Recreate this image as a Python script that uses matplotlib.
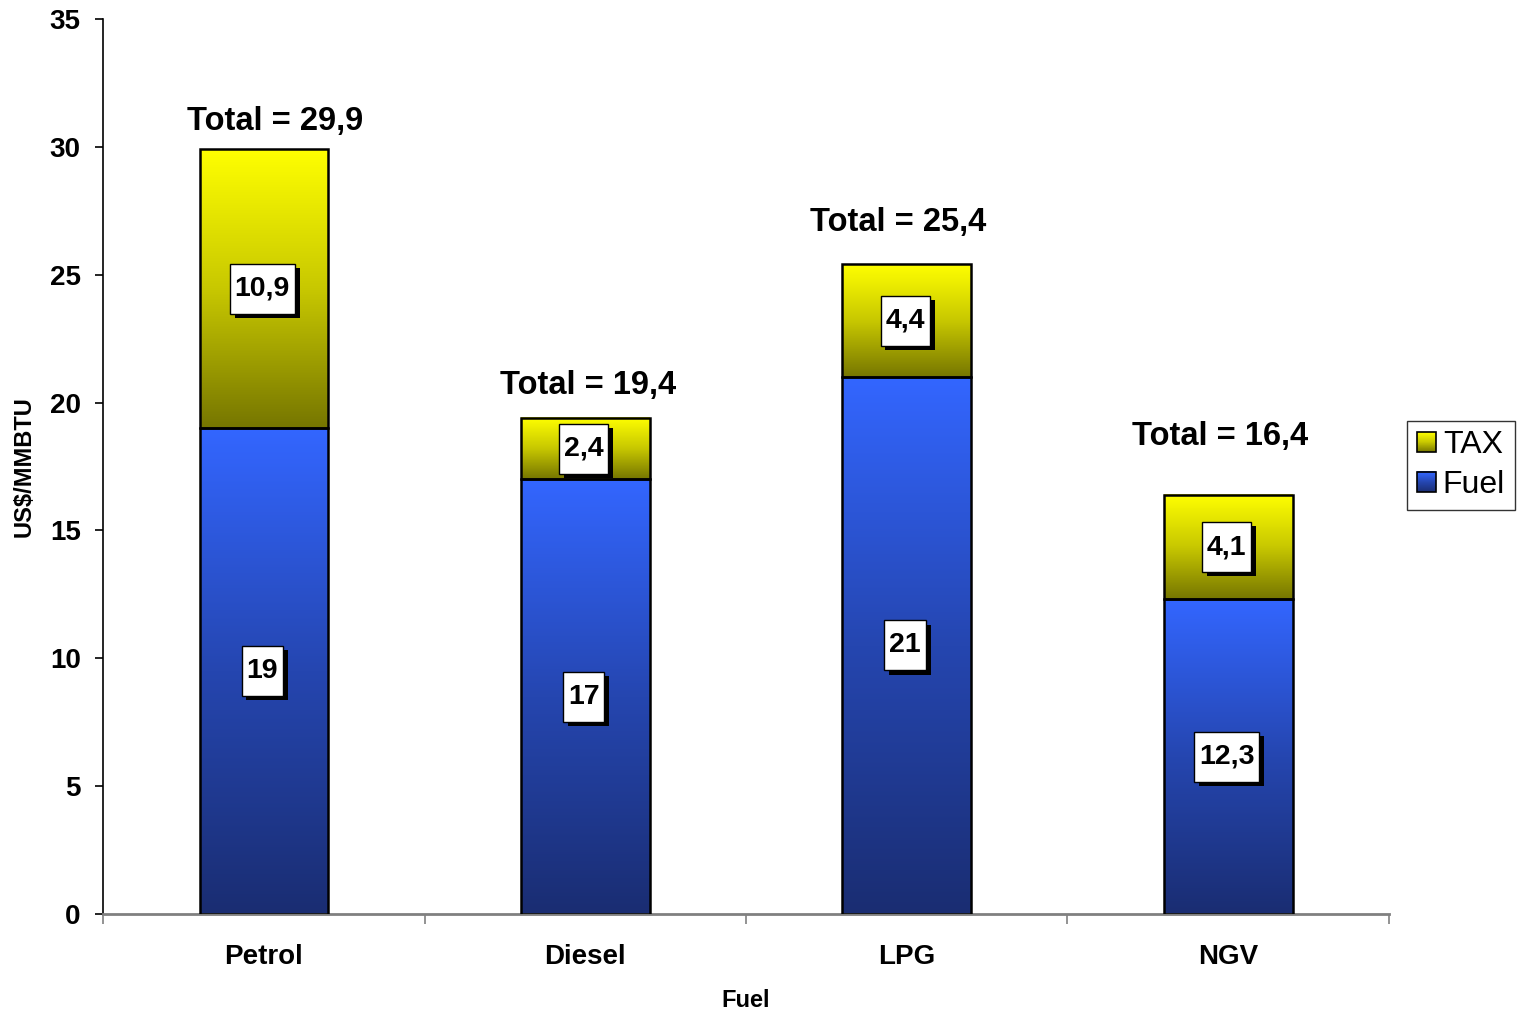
#!/usr/bin/env python3
"""
Fuel price breakdown (fuel cost + tax) per energy unit, stacked bars.
"""

import numpy as np
import matplotlib
matplotlib.use("Agg")
import matplotlib.pyplot as plt
import matplotlib.patheffects as pe
from matplotlib.colors import LinearSegmentedColormap
from matplotlib.legend_handler import HandlerBase
from matplotlib.patches import Rectangle
from matplotlib.path import Path
from matplotlib.ticker import FixedLocator

plt.rcParams['font.family'] = ['Liberation Sans', 'DejaVu Sans']

fuels = ['Petrol', 'Diesel', 'LPG', 'NGV']
fuel_cost = [19, 17, 21, 12.3]
tax = [10.9, 2.4, 4.4, 4.1]
totals = [29.9, 19.4, 25.4, 16.4]

# vertical gap (points) between bar top and its "Total" caption, plus small x nudges
total_gap_pt = [20, 23, 30, 42]
total_dx_pt = [8, 2, -6, -6]

fuel_cmap = LinearSegmentedColormap.from_list('fuel', ['#1a2d72', '#2546b0', '#3366ff'])
tax_cmap = LinearSegmentedColormap.from_list('tax', ['#767600', '#c8c800', '#ffff00'])


def fmt(v):
    return f"{v:g}".replace('.', ',')


def label_box(x0, y0, width, height, mutation_size):
    # square box, tight at the sides and roomier above/below the digits
    px, py = 0.17 * mutation_size, 0.42 * mutation_size
    x0, y0 = x0 - px, y0 - py
    x1, y1 = x0 + width + 2 * px, y0 + height + 2 * py
    return Path([(x0, y0), (x1, y0), (x1, y1), (x0, y1), (x0, y0)],
                [Path.MOVETO, Path.LINETO, Path.LINETO, Path.LINETO, Path.CLOSEPOLY])


def fill_gradient(ax, rects, cmap):
    grad = np.linspace(0, 1, 256).reshape(-1, 1)
    for r in rects:
        x0, y0 = r.get_x(), r.get_y()
        ax.imshow(grad, cmap=cmap, origin='lower', aspect='auto',
                  extent=[x0, x0 + r.get_width(), y0, y0 + r.get_height()],
                  zorder=2, interpolation='bilinear')


class GradientHandler(HandlerBase):
    def __init__(self, cmap):
        super().__init__()
        self.cmap = cmap

    def create_artists(self, legend, orig_handle, xdescent, ydescent,
                       width, height, fontsize, trans):
        side = min(width, height)
        x0 = -xdescent + (width - side) / 2
        y0 = -ydescent + (height - side) / 2
        n = 20
        arts = []
        for i in range(n):
            arts.append(Rectangle((x0, y0 + side * i / n), side, side / n + 0.3,
                                  facecolor=self.cmap((i + 0.5) / n),
                                  edgecolor='none', transform=trans))
        arts.append(Rectangle((x0, y0), side, side, facecolor='none',
                              edgecolor='black', lw=1.2, transform=trans))
        return arts


fig = plt.figure(figsize=(15.2, 10.09), dpi=100)
ax = fig.add_axes([0.0678, 0.0942, 0.846, 0.887])

x = np.arange(len(fuels))
width = 0.40

fuel_bars = ax.bar(x, fuel_cost, width, facecolor='none', edgecolor='black',
                   linewidth=1.8, zorder=3)
tax_bars = ax.bar(x, tax, width, bottom=fuel_cost, facecolor='none',
                  edgecolor='black', linewidth=1.8, zorder=3)
fill_gradient(ax, fuel_bars, fuel_cmap)
fill_gradient(ax, tax_bars, tax_cmap)

label_kw = dict(ha='center', va='center', fontsize=20.5, fontweight='bold', zorder=6,
                bbox=dict(boxstyle=label_box, facecolor='white',
                          edgecolor='black', linewidth=1))
shadow = [pe.withSimplePatchShadow(offset=(3.5, -3), shadow_rgbFace='black', alpha=1)]

for i in range(len(fuels)):
    t1 = ax.text(x[i] - 0.005, fuel_cost[i] / 2, fmt(fuel_cost[i]), **label_kw)
    t2 = ax.text(x[i] - 0.005, fuel_cost[i] + tax[i] / 2, fmt(tax[i]), **label_kw)
    for t in (t1, t2):
        t.get_bbox_patch().set_path_effects(shadow)
    ax.annotate(f"Total = {fmt(totals[i])}", xy=(x[i], fuel_cost[i] + tax[i]),
                xytext=(total_dx_pt[i], total_gap_pt[i]), textcoords='offset points',
                ha='center', va='center', fontsize=23.5, fontweight='bold')

ax.set_xlim(-0.5, len(fuels) - 0.5)
ax.set_ylim(0, 35)
ax.set_yticks(np.arange(0, 36, 5))
ax.set_xticks(x)
ax.set_xticklabels(fuels, fontsize=20, fontweight='bold')
ax.xaxis.set_minor_locator(FixedLocator(np.arange(len(fuels) + 1) - 0.5))
ax.tick_params(axis='x', which='major', length=0, pad=21.5)
ax.tick_params(axis='x', which='minor', length=7, width=1.2, color='#808080', direction='out')
ax.tick_params(axis='y', length=6, width=1.2, pad=10, labelsize=20)
for lab in ax.get_yticklabels():
    lab.set_fontweight('bold')

for s in ('top', 'right'):
    ax.spines[s].set_visible(False)
ax.spines['left'].set_linewidth(1.2)
ax.spines['bottom'].set_linewidth(2)
ax.spines['bottom'].set_color('#808080')

ax.set_ylabel('US$/MMBTU', fontsize=17, fontweight='bold', labelpad=10)
ax.set_xlabel('Fuel', fontsize=17, fontweight='bold', labelpad=13.5)

h_tax = Rectangle((0, 0), 1, 1)
h_fuel = Rectangle((0, 0), 1, 1)
leg = ax.legend([h_tax, h_fuel], ['TAX', 'Fuel'],
                handler_map={h_tax: GradientHandler(tax_cmap), h_fuel: GradientHandler(fuel_cmap)},
                loc='upper left', bbox_to_anchor=(1.014, 0.551), borderaxespad=0,
                fontsize=23, frameon=True, fancybox=False, edgecolor='black',
                handlelength=0.62, handleheight=0.62, handletextpad=0.2,
                borderpad=0.3, labelspacing=0.3)
leg.get_frame().set_linewidth(1)

fig.savefig('out.png', dpi=100)
